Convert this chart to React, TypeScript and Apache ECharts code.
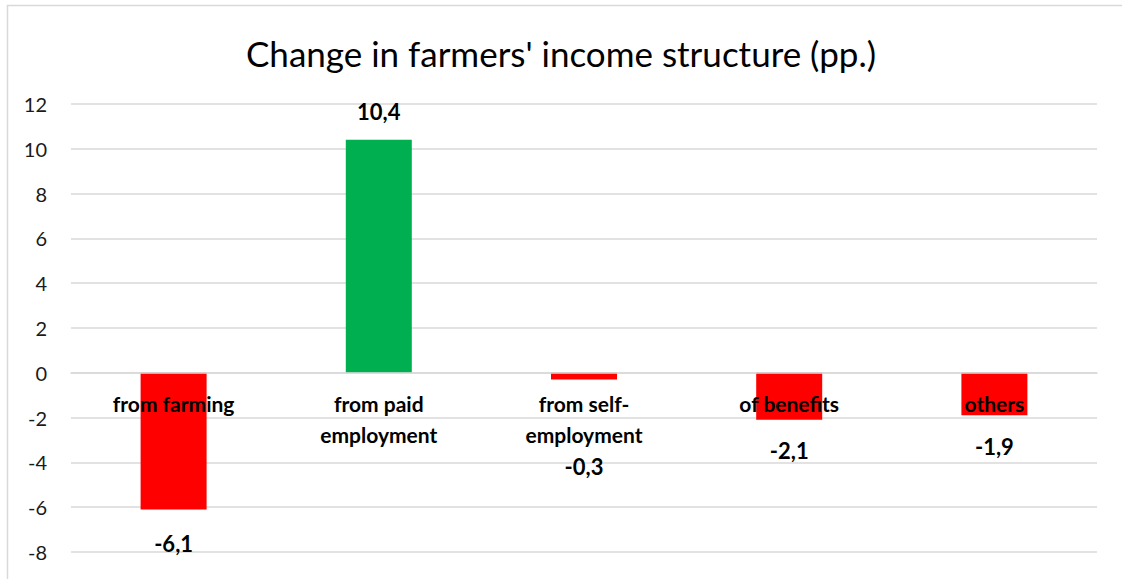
import React, { useEffect, useRef } from "react";
import * as echarts from "echarts";

const title = "Change in farmers' income structure (pp.)";
const categories = [
  "from farming",
  "from paid\nemployment",
  "from self-\nemployment",
  "of benefits",
  "others",
];
const values = [-6.1, 10.4, -0.3, -2.1, -1.9];
const yMin = -8;
const yMax = 12;
const yStep = 2;

const RED = "#ff0000";
const GREEN = "#00b050";
const FONT = "Lato";

export default function App() {
  const ref = useRef<HTMLDivElement>(null);
  useEffect(() => {
    if (!ref.current) return;
    const chart = echarts.init(ref.current, null, { renderer: "svg" });
    const labelDistances = [23, 17, 76, 20, 20];
    chart.setOption({
      animation: false,
      backgroundColor: "#ffffff",
      textStyle: { fontFamily: FONT },
      title: {
        text: title,
        left: "center",
        top: 30,
        textStyle: {
          fontFamily: FONT,
          fontSize: 35,
          fontWeight: "normal",
          color: "#000000",
        },
      },
      graphic: [
        {
          type: "rect",
          shape: { x: 7.5, y: 5.5, width: 1200, height: 700 },
          style: { fill: "none", stroke: "#d9d9d9", lineWidth: 1.5 },
          silent: true,
        },
      ],
      grid: {
        left: 71,
        right: 25,
        top: 104,
        bottom: 27,
        containLabel: false,
        outerBoundsMode: "none",
      },
      xAxis: {
        type: "category",
        data: categories,
        z: 10,
        axisLine: { onZero: true, lineStyle: { color: "#d9d9d9", width: 1.5 } },
        axisTick: { show: false },
        axisLabel: { show: false },
        splitLine: { show: false },
      },
      yAxis: {
        type: "value",
        min: yMin,
        max: yMax,
        interval: yStep,
        axisLine: { show: false },
        axisTick: { show: false },
        axisLabel: {
          margin: 24,
          fontFamily: FONT,
          fontSize: 20,
          color: "#1a1a1a",
        },
        splitLine: { lineStyle: { color: "#d9d9d9", width: 1.5 } },
      },
      series: [
        {
          type: "bar",
          barWidth: 66,
          z: 2,
          data: values.map((v, i) => ({
            value: v,
            itemStyle: { color: v >= 0 ? GREEN : RED },
            label: {
              show: true,
              position: v >= 0 ? "top" : "bottom",
              distance: labelDistances[i],
              formatter: () => String(v).replace(".", ","),
              fontFamily: FONT,
              fontSize: 22,
              fontWeight: "bold",
              color: "#000000",
            },
          })),
        },
        {
          type: "scatter",
          symbolSize: 0,
          z: 10,
          silent: true,
          itemStyle: { opacity: 1 },
          data: categories.map((c, i) => [i, 0]),
          label: {
            show: true,
            position: "bottom",
            distance: 15,
            formatter: (p: any) => categories[p.dataIndex],
            fontFamily: FONT,
            fontSize: 21,
            fontWeight: "bold",
            color: "#000000",
            opacity: 1,
            lineHeight: 31,
            align: "center",
          },
        },
      ],
    });
    return () => chart.dispose();
  }, []);
  return (
    <div
      ref={ref}
      style={{ position: "fixed", left: 0, top: 0, width: 1122, height: 579 }}
    />
  );
}
